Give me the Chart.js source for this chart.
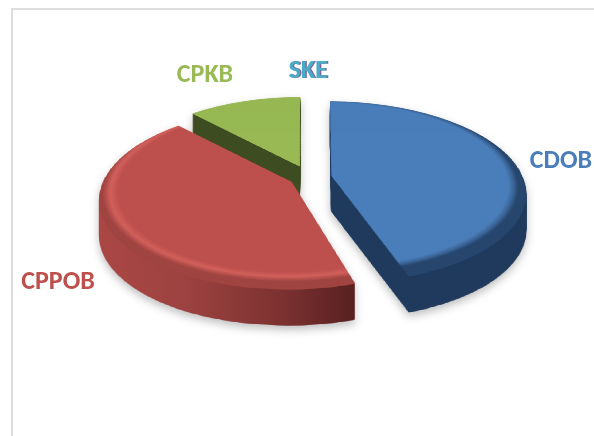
<!DOCTYPE html>
<html><head><meta charset="utf-8">
<style>html,body{margin:0;padding:0;background:#fff}#w{width:594px;height:436px;position:relative}</style>
<script src="https://cdn.jsdelivr.net/npm/chart.js@4"></script>
</head><body><div id="w"><canvas id="c" width="594" height="436"></canvas></div>
<script>
const categories = ['CDOB','CPPOB','CPKB','SKE','SKE'];
const seriesValues = [45.1,42.9,12,0,0];
const faceColors = ['#4a7ebb','#bd4f4c','#98b954','#8064a2','#4bacc6'];
const labelColors = ['#4a7ebb','#bd4f4c','#98b954','#8064a2','#4bacc6'];

// projection of the flat pie on to the tilted plane
const P = {cx:309, cy:177, rx:175, ry:81, k:0.168, depth:36};
const explode = [88, 77, 100, 0, 0];
const labelPos = [[561,161],[58,282],[205,75],[309.5,71],[308,71]];
const frame = {x:12, y:9, color:'#dedede'};

function arcOpts(o, fill){
  return {backgroundColor:fill,borderColor:'transparent',borderWidth:0,offset:o.offset,spacing:0,
    borderAlign:'center',borderRadius:0,borderJoinStyle:'round',circular:true,selfJoin:false,
    borderDash:[],borderDashOffset:0,angle:o.angle};
}
function faceFill(g, i, R, cx, cy){
  if (i===2) return faceColors[2];
  const d = 10, r1 = R+d;
  const rg = g.createRadialGradient(cx,cy-d,0,cx,cy-d,r1);
  const at = v => Math.max(0,Math.min(1,v/r1));
  if (i===0){
    rg.addColorStop(0,faceColors[0]); rg.addColorStop(at(R+1),faceColors[0]);
    rg.addColorStop(at(R+6),'#3a6496'); rg.addColorStop(1,'#27466e');
  } else {
    rg.addColorStop(0,faceColors[1]); rg.addColorStop(at(R-4),faceColors[1]);
    rg.addColorStop(at(R+3),'#d2605b'); rg.addColorStop(1,'#a04441');
  }
  return rg;
}
function warp(src, S, R, dst){
  const g = dst.getContext('2d');
  for (let sy=0; sy<S; sy++){
    const Y0=(sy-S/2)/R, Y1=(sy+1-S/2)/R;
    const w0=1-P.k*Y0, w1=1-P.k*Y1;
    if (w0<=0.05||w1<=0.05) continue;
    const y0=P.cy+P.ry*Y0/w0, y1=P.cy+P.ry*Y1/w1;
    const sc=P.rx/(R*(w0+w1)/2);
    g.drawImage(src,0,sy,S,1,P.cx-sc*S/2,y0,sc*S,Math.max(y1-y0,0)+0.6);
  }
}
const wallFlat = ['#1f3a5c','#a04441','#3d4c21'];
const pie3d = {
  id:'pie3d',
  beforeDatasetDraw(chart,args){
    const meta=chart.getDatasetMeta(args.index), ctx=chart.ctx;
    const W=chart.width,H=chart.height;
    const arcs=meta.data; const R=arcs[0].outerRadius;
    const S=Math.ceil(2*R+240);
    const mk=(w,h)=>{const c=document.createElement('canvas');c.width=w;c.height=h;return c;};
    const buf=mk(W,H), bg=buf.getContext('2d');
    const one=(i,fillFn)=>{
      const el=arcs[i]; const s=mk(S,S), g=s.getContext('2d');
      g.translate(S/2-el.x,S/2-el.y);
      const keep=el.options;
      el.options=arcOpts(keep,fillFn(g,el.x,el.y));
      el.draw(g);
      el.options=keep;
      const d=mk(W,H); warp(s,S,R,d); return d;
    };
    for (const i of [2,0,1]){
      const wall=one(i,()=>wallFlat[i]);
      const stack=mk(W,H), sg=stack.getContext('2d');
      for(let d=P.depth;d>=1;d--) sg.drawImage(wall,0,d);
      sg.globalCompositeOperation='source-atop';
      if(i===1){
        const h=sg.createLinearGradient(95,0,360,0);
        h.addColorStop(0,'#ab4744');h.addColorStop(.35,'#9c4240');h.addColorStop(.7,'#7c3230');h.addColorStop(1,'#551f1f');
        sg.fillStyle=h;
      } else sg.fillStyle=wallFlat[i];
      sg.fillRect(0,0,W,H);
      bg.drawImage(stack,0,0);
      bg.drawImage(one(i,(g,x,y)=>faceFill(g,i,R,x,y)),0,0);
    }
    ctx.save();
    ctx.shadowColor='rgba(0,0,0,0.25)';ctx.shadowBlur=9;ctx.shadowOffsetX=0;ctx.shadowOffsetY=4;
    ctx.drawImage(buf,0,0);
    ctx.restore();
    return false;
  },
  afterDraw(chart){
    const ctx=chart.ctx;
    ctx.save();
    ctx.strokeStyle=frame.color;ctx.lineWidth=2;
    ctx.beginPath();ctx.moveTo(frame.x,chart.height);ctx.lineTo(frame.x,frame.y);ctx.lineTo(chart.width,frame.y);ctx.stroke();
    ctx.font='bold 26px Carlito, Lato, "Noto Sans", sans-serif';
    ctx.textAlign='center';ctx.textBaseline='middle';
    categories.forEach((c,i)=>{ctx.fillStyle=labelColors[i];ctx.fillText(c,labelPos[i][0],labelPos[i][1]);});
    ctx.restore();
  }
};
new Chart(document.getElementById('c'),{
  type:'pie',
  data:{labels:categories,datasets:[{data:seriesValues,backgroundColor:faceColors,borderWidth:0,offset:explode}]},
  options:{responsive:false,animation:false,rotation:0,plugins:{legend:{display:false},tooltip:{enabled:false},title:{display:false}},layout:{padding:0}},
  plugins:[pie3d]
});
</script></body></html>
